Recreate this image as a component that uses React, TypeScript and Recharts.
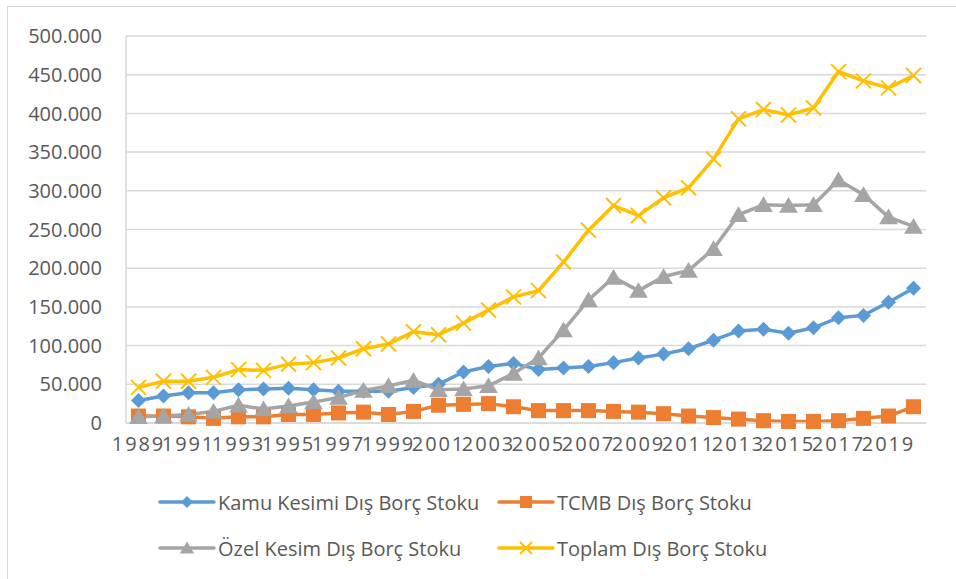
import { LineChart, Line, XAxis, YAxis, CartesianGrid } from "recharts";

const years = [
  "1989", "1990", "1991", "1992", "1993", "1994", "1995", "1996",
  "1997", "1998", "1999", "2000", "2001", "2002", "2003", "2004",
  "2005", "2006", "2007", "2008", "2009", "2010", "2011", "2012",
  "2013", "2014", "2015", "2016", "2017", "2018", "2019", "2020",
];

const kamu = [
  29000, 35000, 39000, 39000, 43000, 44000, 45000, 43000,
  41000, 41000, 41000, 46000, 50000, 66000, 73000, 77000,
  69000, 71000, 73000, 78000, 84000, 89000, 96000, 107000,
  119000, 121000, 116000, 123000, 136000, 139000, 156000, 174000,
];

const tcmb = [
  9000, 9000, 8000, 6000, 8000, 8000, 11000, 11000,
  13000, 14000, 11000, 15000, 23000, 24000, 25000, 21000,
  16000, 16000, 16000, 15000, 14000, 12000, 9000, 7000,
  5000, 3000, 2000, 2000, 3000, 6000, 9000, 21000,
];

const ozel = [
  8000, 9000, 11000, 15000, 23000, 18000, 22000, 27000,
  33000, 42000, 48000, 55000, 43000, 44000, 48000, 64000,
  84000, 120000, 159000, 188000, 171000, 189000, 197000, 225000,
  269000, 282000, 281000, 282000, 314000, 295000, 266000, 254000,
];

const toplam = [
  46000, 54000, 54000, 59000, 69000, 68000, 76000, 78000,
  84000, 96000, 102000, 118000, 114000, 129000, 146000, 163000,
  171000, 208000, 249000, 281000, 268000, 291000, 304000, 341000,
  393000, 405000, 398000, 407000, 454000, 442000, 433000, 449000,
];

const yTicks = [0, 50000, 100000, 150000, 200000, 250000, 300000, 350000, 400000, 450000, 500000];

const data = years.map((year, i) => ({
  year,
  kamu: kamu[i],
  tcmb: tcmb[i],
  ozel: ozel[i],
  toplam: toplam[i],
}));

const FONT = "'Open Sans', 'Noto Sans', sans-serif";
const TEXT = "#595959";
const GRID = "#d9d9d9";

const BLUE = "#5B9BD5";
const ORANGE = "#ED7D31";
const GRAY = "#A5A5A5";
const YELLOW = "#FFC000";

const fmt = (v: number) => {
  if (v === 0) return "0";
  const s = String(v);
  return s.replace(/\B(?=(\d{3})+(?!\d))/g, ".");
};

type Mk = "diamond" | "square" | "triangle" | "x";

const marker = (kind: Mk, cx: number, cy: number, r: number, color: string, key?: string) => {
  if (kind === "diamond")
    return <polygon key={key} points={`${cx},${cy - r} ${cx + r},${cy} ${cx},${cy + r} ${cx - r},${cy}`} fill={color} />;
  if (kind === "square")
    return <rect key={key} x={cx - r} y={cy - r} width={r * 2} height={r * 2} fill={color} />;
  if (kind === "triangle")
    return <polygon key={key} points={`${cx},${cy - r} ${cx + r * 1.1},${cy + r * 0.85} ${cx - r * 1.1},${cy + r * 0.85}`} fill={color} />;
  return (
    <g key={key}>
      <line x1={cx - r} y1={cy - r} x2={cx + r} y2={cy + r} stroke={color} strokeWidth={2} />
      <line x1={cx - r} y1={cy + r} x2={cx + r} y2={cy - r} stroke={color} strokeWidth={2} />
    </g>
  );
};

const series: { key: string; name: string; color: string; mk: Mk; r: number }[] = [
  { key: "kamu", name: "Kamu Kesimi Dış Borç Stoku", color: BLUE, mk: "diamond", r: 7.5 },
  { key: "tcmb", name: "TCMB Dış Borç Stoku", color: ORANGE, mk: "square", r: 7.5 },
  { key: "ozel", name: "Özel Kesim Dış Borç Stoku", color: GRAY, mk: "triangle", r: 8.5 },
  { key: "toplam", name: "Toplam Dış Borç Stoku", color: YELLOW, mk: "x", r: 7.5 },
];

const XTick = (props: any) => {
  const { x, y, payload, index } = props;
  if (index % 2 !== 0) return <g />;
  return (
    <text x={x} y={y + 28} textAnchor="middle" fill={TEXT} fontSize={20} fontFamily={FONT} letterSpacing={1.9}>
      {payload.value}
    </text>
  );
};

const LegendItem = ({ s, left, top }: { s: (typeof series)[number]; left: number; top: number }) => (
  <div style={{ position: "absolute", left, top, display: "flex", alignItems: "center", height: 30 }}>
    <svg width={58} height={30} style={{ display: "block" }}>
      <line x1={2} y1={15} x2={56} y2={15} stroke={s.color} strokeWidth={3.5} strokeLinecap="round" />
      {marker(s.mk, 29, 15, s.mk === "triangle" ? 6.5 : 6, s.color)}
    </svg>
    <span style={{ fontFamily: FONT, fontSize: 20, color: TEXT, marginLeft: 2, whiteSpace: "nowrap" }}>{s.name}</span>
  </div>
);

export default function App() {
  return (
    <div style={{ position: "absolute", left: 0, top: 0, width: 956, height: 579, background: "#fff", overflow: "hidden" }}>
      <div style={{ position: "absolute", left: 7, top: 6, width: 980, height: 600, border: `1px solid ${GRID}` }} />
      <div style={{ position: "absolute", left: 0, top: 0 }}>
        <LineChart width={956} height={579} data={data} margin={{ top: 36, right: 30, bottom: 126, left: 0 }}>
          <CartesianGrid horizontal vertical={false} stroke={GRID} strokeWidth={1.5} />
          <XAxis
            dataKey="year"
            interval={0}
            height={30}
            padding={{ left: 12.5, right: 12.5 }}
            tickSize={0}
            tickMargin={0}
            tickLine={false}
            axisLine={{ stroke: GRID, strokeWidth: 1.5 }}
            tick={<XTick />}
          />
          <YAxis
            width={126}
            domain={[0, 500000]}
            ticks={yTicks}
            tickFormatter={fmt}
            tickSize={0}
            tickMargin={24}
            tickLine={false}
            axisLine={{ stroke: GRID, strokeWidth: 1.5 }}
            tick={{ fill: TEXT, fontSize: 20, fontFamily: FONT }}
          />
          {series.map((s) => (
            <Line
              key={s.key}
              type="linear"
              dataKey={s.key}
              name={s.name}
              stroke={s.color}
              strokeWidth={3.5}
              isAnimationActive={false}
              dot={(p: any) => marker(s.mk, p.cx, p.cy, s.r, s.color, `${s.key}-${p.index}`)}
              activeDot={false}
            />
          ))}
        </LineChart>
      </div>
      <LegendItem s={series[0]} left={158} top={487} />
      <LegendItem s={series[1]} left={497} top={487} />
      <LegendItem s={series[2]} left={158} top={533} />
      <LegendItem s={series[3]} left={497} top={533} />
    </div>
  );
}
